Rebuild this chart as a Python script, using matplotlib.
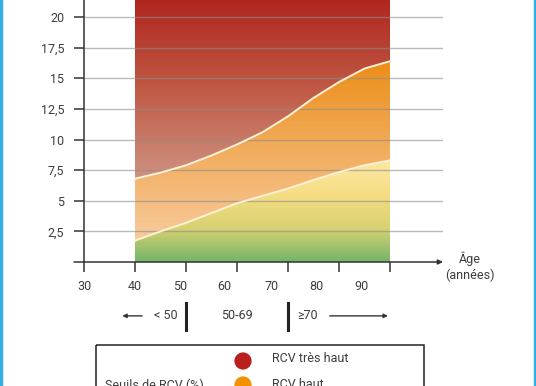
import numpy as np
import matplotlib
matplotlib.use('Agg')
import matplotlib.pyplot as plt
import matplotlib.patches as mpatches
from matplotlib.colors import LinearSegmentedColormap

plt.rcParams['font.family'] = ['Roboto', 'DejaVu Sans']

# données (âge -> seuil de RCV en %)
ages = [40, 45, 50, 55, 60, 65, 70, 75, 80, 85, 90]
seuil_tres_haut = [6.8, 7.3, 7.9, 8.7, 9.6, 10.6, 11.9, 13.4, 14.7, 15.8, 16.4]
seuil_haut = [1.75, 2.5, 3.2, 4.0, 4.8, 5.4, 6.0, 6.7, 7.35, 7.9, 8.3]

x_ticks = [30, 40, 50, 60, 70, 80, 90]
x_labels = ['30', '40', '50', '60', '70', '80', '90']
y_ticks = [2.5, 5, 7.5, 10, 12.5, 15, 17.5, 20]
y_labels = ['2,5', '5', '7,5', '10', '12,5', '15', '17,5', '20']
groupes = ['< 50', '50-69', '≥70']
legende = ['RCV très haut', 'RCV haut']

# mise en page
label_pos = [30, 40, 48.8, 57.6, 66.7, 75.5, 84.5]   # labels décalés comme sur l'original
txt = '#3d3d3d'
ymax = 21.4

fig = plt.figure(figsize=(5.36, 3.86), dpi=100)
ax = fig.add_axes([84 / 536, 124 / 386, 359 / 536, 262 / 386])
ax.set_xlim(30, 30 + 359 / 5.1)
ax.set_ylim(0, ymax)

a = np.array(ages, dtype=float)
up = np.array(seuil_tres_haut)
lo = np.array(seuil_haut)


def gradient_zone(y_bas, y_haut, colors, vmin, vmax):
    cmap = LinearSegmentedColormap.from_list('z', colors)
    grad = np.linspace(1, 0, 256).reshape(-1, 1)
    im = ax.imshow(grad, cmap=cmap, aspect='auto', extent=[a[0], a[-1], vmin, vmax],
                   interpolation='bilinear', zorder=1)
    poly = ax.fill_between(a, y_bas, y_haut, color='none', lw=0)
    clip = mpatches.PathPatch(poly.get_paths()[0], transform=ax.transData, visible=False)
    ax.add_patch(clip)
    im.set_clip_path(clip)


gradient_zone(up, np.full_like(up, ymax), ['#cf9282', '#c05a45', '#b0261f'], up.min(), ymax)
gradient_zone(lo, up, ['#f7cb9c', '#f2ad5e', '#ec8e17'], lo.min(), up.max())
gradient_zone(np.zeros_like(lo), lo, ['#72b56a', '#d8d271', '#f6dd84', '#fde8a2'], 0, lo.max())

ax.plot(a, up, color='#fdf1d6', lw=1.4, zorder=3)
ax.plot(a, lo, color='#fdf1d6', lw=1.4, zorder=3)

for yv in y_ticks:
    ax.axhline(yv, color='#8c8c8c', lw=1.0, alpha=0.6, zorder=2)

for s in ['top', 'right', 'bottom']:
    ax.spines[s].set_visible(False)
ax.spines['left'].set_color('#333333')
ax.spines['left'].set_linewidth(1.1)
ax.set_yticks(y_ticks)
ax.set_yticklabels(y_labels)
ax.tick_params(axis='y', length=7.2, width=1.1, color='#333333', labelsize=9,
               labelcolor=txt, pad=7)
ax.set_xticks(x_ticks)
ax.tick_params(axis='x', length=7.2, width=1.1, color='#333333', labelbottom=False)

# axe des x avec flèche
ax.annotate('', xy=(1.0, 0), xytext=(-10 / 359, 0), xycoords='axes fraction',
            arrowprops=dict(arrowstyle='-|>', color='#333333', lw=1.1,
                            mutation_scale=7, shrinkA=0, shrinkB=0), annotation_clip=False)
for xp, lab in zip(label_pos, x_labels):
    ax.text(xp, -2.0, lab, ha='center', va='center', fontsize=9, color=txt, clip_on=False)
ax.text(1.075, -0.018, 'Âge\n(années)', transform=ax.transAxes, ha='center', va='center',
        fontsize=9, color=txt, linespacing=1.3)

# tranches d'âge
yrow = -4.4
ax.annotate('', xy=(37.5, yrow), xytext=(41.4, yrow), annotation_clip=False,
            arrowprops=dict(arrowstyle='-|>', color='#333333', lw=1, mutation_scale=6,
                            shrinkA=0, shrinkB=0))
ax.annotate('', xy=(89.6, yrow), xytext=(78.2, yrow), annotation_clip=False,
            arrowprops=dict(arrowstyle='-|>', color='#333333', lw=1, mutation_scale=6,
                            shrinkA=0, shrinkB=0))
ax.text(46.1, yrow, groupes[0], ha='center', va='center', fontsize=9, color=txt)
ax.text(60, yrow, groupes[1], ha='center', va='center', fontsize=9, color=txt)
ax.text(71.8, yrow, groupes[2], ha='left', va='center', fontsize=9, color=txt)
for xb in [50, 70]:
    ax.plot([xb, xb], [yrow - 1.15, yrow + 1.05], color='#222222', lw=2.2, clip_on=False)

# légende (cadre coupé en bas) + bordures bleues
ov = fig.add_axes([0, 0, 1, 1], facecolor='none')
ov.set_xlim(0, 536)
ov.set_ylim(386, 0)
ov.axis('off')
ov.add_patch(mpatches.Rectangle((96, 345), 328, 60, fill=False, ec='#222222', lw=1.1))
ov.scatter([243, 243], [361, 385], s=[130, 130], color=['#b91f1c', '#f39200'], zorder=3)
ov.text(272, 359, legende[0], ha='left', va='center', fontsize=9, color=txt)
ov.text(272, 384, legende[1], ha='left', va='center', fontsize=9, color=txt)
ov.text(105, 385, 'Seuils de RCV (%)', ha='left', va='center', fontsize=9, color=txt)
ov.plot([1, 1], [0, 386], color='#35aee6', lw=2.5)
ov.plot([534.5, 534.5], [0, 386], color='#35aee6', lw=2.5)

fig.savefig('out.png', dpi=100)
